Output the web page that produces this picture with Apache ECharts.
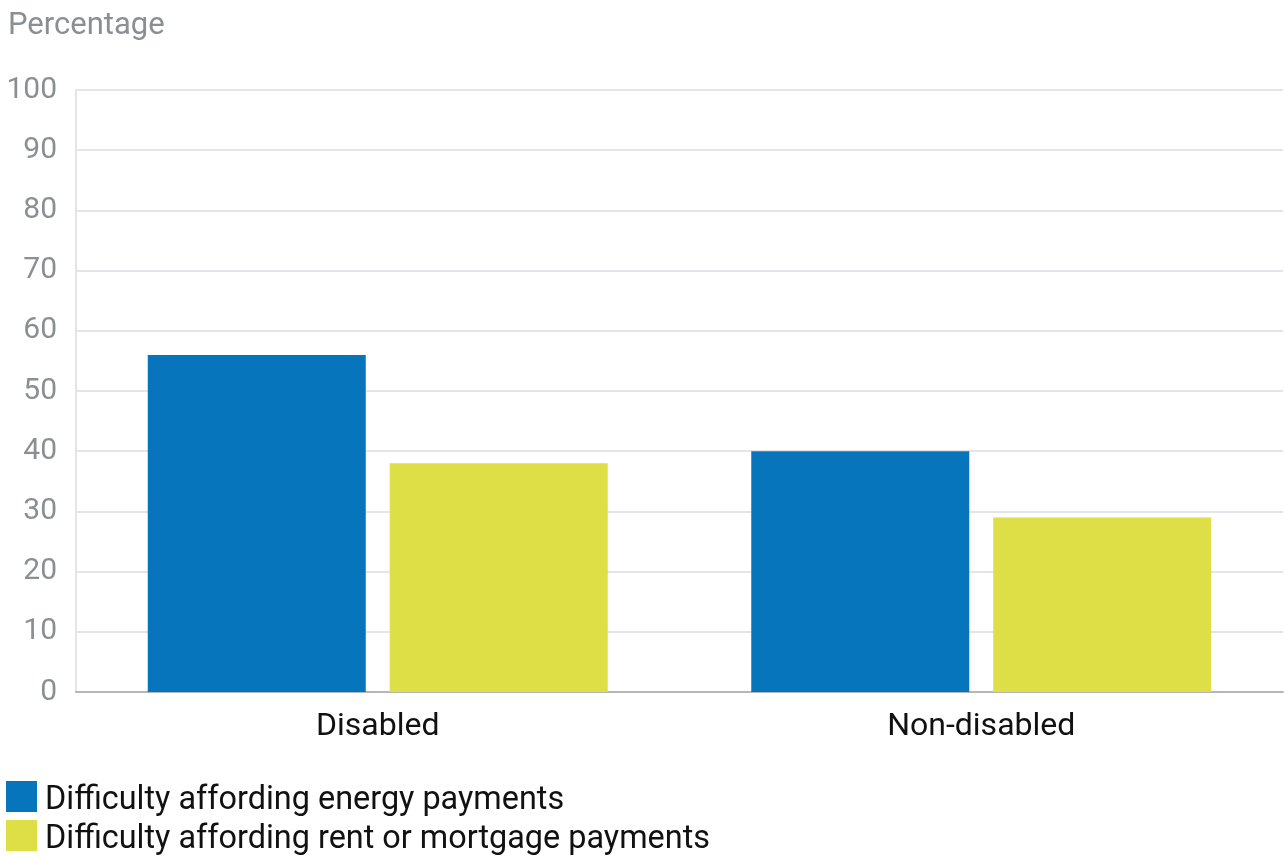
<!DOCTYPE html>
<html>
<head>
<meta charset="utf-8">
<script src="https://cdn.jsdelivr.net/npm/echarts@6/dist/echarts.min.js"></script>
<style>
  html, body { margin: 0; padding: 0; background: #fff; }
  #chart { width: 1284px; height: 857px; }
</style>
</head>
<body>
<div id="chart"></div>
<script>
// data
var categories = ['Disabled', 'Non-disabled'];
var seriesNames = ['Difficulty affording energy payments', 'Difficulty affording rent or mortgage payments'];
var energyValues = [56, 40];
var rentValues = [38, 29];
var colors = ['#0775bc', '#dede46'];

var chart = echarts.init(document.getElementById('chart'));
var font = 'Roboto, "Noto Sans", sans-serif';

var option = {
    backgroundColor: '#fff',
    animation: false,
    textStyle: { fontFamily: font },
    grid: { left: 76, right: 1, top: 90, bottom: 165, containLabel: false },
    legend: {
        orient: 'vertical',
        left: 6,
        top: 781,
        padding: 0,
        itemWidth: 31,
        itemHeight: 31,
        itemGap: 3,
        icon: 'rect',
        selectedMode: false,
        formatter: '{t|{name}}',
        textStyle: {
            fontSize: 32.4, color: '#111', fontFamily: font,
            rich: { t: { fontSize: 32.4, color: '#111', fontFamily: font, padding: [9, 0, 0, 3] } }
        },
        data: seriesNames
    },
    xAxis: {
        type: 'category',
        data: categories,
        axisLine: { show: true, lineStyle: { color: '#b4b7ba', width: 2 } },
        axisTick: { show: false },
        axisLabel: { fontSize: 32, color: '#111', margin: 19, fontFamily: font }
    },
    yAxis: {
        type: 'value',
        min: 0,
        max: 100,
        interval: 10,
        name: 'Percentage',
        nameLocation: 'end',
        nameGap: 0,
        nameTextStyle: { fontSize: 31, color: '#8a8f94', align: 'left', padding: [0, 0, 48, -68], fontFamily: font },
        axisLine: { show: true, lineStyle: { color: '#e3e5e8', width: 2 } },
        axisTick: { show: false },
        axisLabel: { fontSize: 30, color: '#8a8f94', margin: 19, fontFamily: font },
        splitLine: { show: true, lineStyle: { color: '#e3e5e8', width: 2 } }
    },
    series: [{
        name: seriesNames[0],
        type: 'bar',
        data: energyValues,
        barWidth: 218,
        barGap: '11%',
        itemStyle: { color: colors[0] }
    }, {
        name: seriesNames[1],
        type: 'bar',
        data: rentValues,
        barWidth: 218,
        itemStyle: { color: colors[1] }
    }]
};
chart.setOption(option);
</script>
</body>
</html>
